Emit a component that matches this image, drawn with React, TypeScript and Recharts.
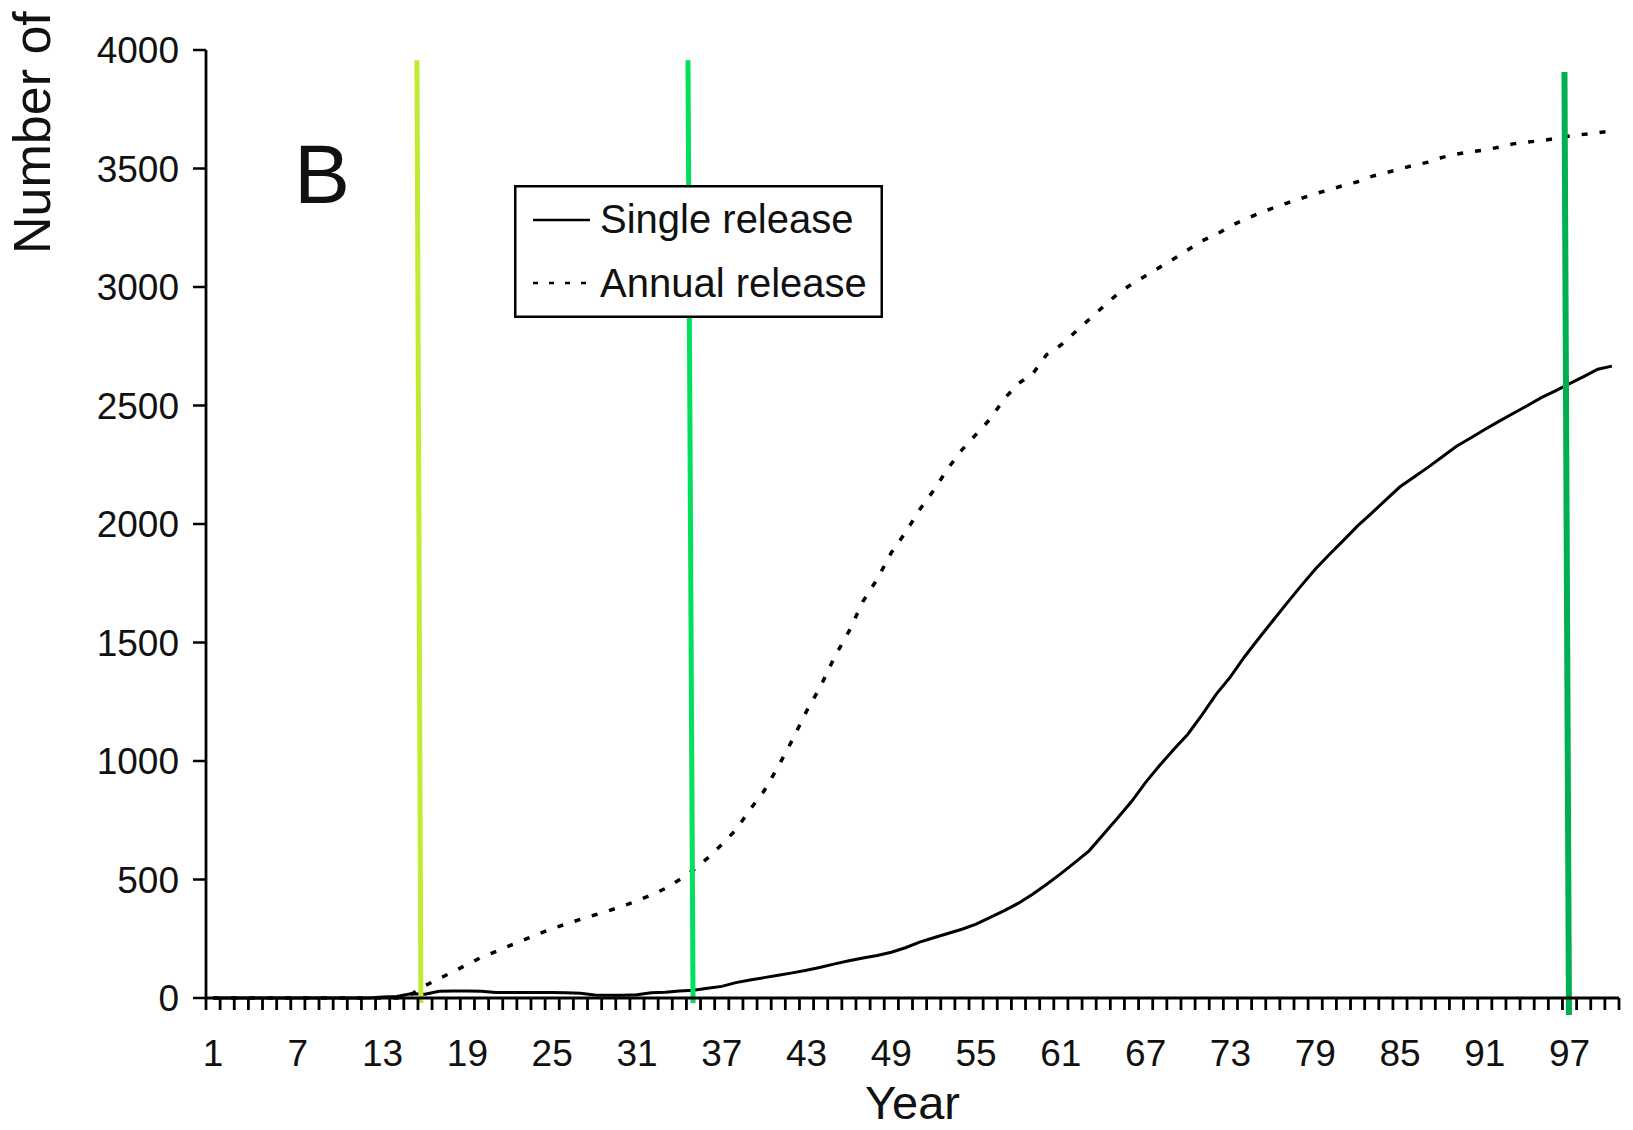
import React from 'react';
import { LineChart, Line, XAxis, YAxis, ReferenceLine, Legend } from 'recharts';

const FONT = '"Liberation Sans", Arial, sans-serif';

const YEARS = Array.from({ length: 100 }, (_, i) => i + 1);

const SINGLE_RELEASE = [
  0, 0, 0, 0, 0, 0, 0, 0, 0, 0,
  0, 0, 4, 6, 18, 16, 28, 30, 30, 28,
  23, 23, 23, 23, 23, 22, 20, 13, 12, 12,
  14, 22, 24, 30, 33, 41, 49, 65, 76, 86,
  96, 106, 117, 130, 144, 157, 169, 179, 193, 212,
  236, 254, 272, 290, 312, 340, 369, 400, 438, 480,
  525, 572, 621, 690, 758, 829, 910, 982, 1050, 1114,
  1196, 1282, 1355, 1440, 1517, 1592, 1666, 1739, 1809, 1871,
  1931, 1992, 2046, 2102, 2157, 2198, 2240, 2284, 2328, 2363,
  2399, 2433, 2466, 2499, 2533, 2562, 2592, 2622, 2653, 2666,
];

const ANNUAL_RELEASE = [
  0, 0, 0, 0, 0, 0, 0, 0, 0, 0,
  0, 0, 0, 0, 15, 52, 82, 111, 142, 172,
  196, 221, 245, 270, 293, 312, 332, 350, 368, 388,
  410, 434, 462, 499, 540, 590, 648, 709, 795, 874,
  977, 1089, 1210, 1316, 1440, 1547, 1674, 1767, 1879, 1964,
  2060, 2142, 2234, 2313, 2378, 2443, 2529, 2593, 2633, 2715,
  2755, 2809, 2863, 2917, 2970, 3012, 3047, 3083, 3119, 3157,
  3195, 3222, 3257, 3285, 3310, 3333, 3354, 3374, 3393, 3411,
  3428, 3444, 3467, 3482, 3498, 3514, 3527, 3547, 3561, 3570,
  3578, 3590, 3604, 3611, 3618, 3626, 3637, 3644, 3651, 3658,
];

const YEAR_TICKS = [1, 7, 13, 19, 25, 31, 37, 43, 49, 55, 61, 67, 73, 79, 85, 91, 97];
// tick marks sit between the years, Excel style
const YEAR_BOUNDARIES = Array.from({ length: 101 }, (_, i) => i + 0.5);
const COUNT_TICKS = [0, 500, 1000, 1500, 2000, 2500, 3000, 3500, 4000];

// hand-drawn green markers: [year, count] at the top and bottom end
const MARKER_TOP = [[15.43, 3957], [34.61, 3957], [96.64, 3907]];
const MARKER_BOTTOM = [[15.71, -21], [34.97, -21], [96.96, -72]];
const MARKER_COLORS = ['#c2ea32', '#00e05c', '#00b050'];
const MARKER_WIDTHS = [5, 5, 6];

const SERIES = [
  { key: 'single', name: 'Single release', dash: undefined as string | undefined },
  { key: 'annual', name: 'Annual release', dash: '5 11' },
];

const data = YEARS.map((year, i) => ({
  year,
  single: SINGLE_RELEASE[i],
  annual: ANNUAL_RELEASE[i],
}));

function LegendBox() {
  return (
    <svg width={369} height={133} style={{ display: 'block' }}>
      <rect x={1.25} y={1.25} width={366.5} height={130.5} fill="#fff" stroke="#000" strokeWidth={2.5} />
      {SERIES.map((s, i) => {
        const lineY = i === 0 ? 35 : 98;
        const textY = i === 0 ? 48 : 112;
        return (
          <g key={s.key}>
            <line x1={19} x2={76} y1={lineY} y2={lineY} stroke="#000" strokeWidth={2.5} strokeDasharray={s.dash} />
            <text x={86} y={textY} fontSize={40} fontFamily={FONT} fill="#111">
              {s.name}
            </text>
          </g>
        );
      })}
    </svg>
  );
}

export default function App() {
  return (
    <div style={{ position: 'absolute', left: 0, top: 0, width: 1633, height: 1130, background: '#fff', fontFamily: FONT }}>
      <LineChart width={1633} height={1130} data={data} margin={{ top: 50, right: 14, bottom: 0, left: 0 }}>
        <XAxis
          xAxisId="minor"
          type="number"
          dataKey="year"
          domain={[0.5, 100.5]}
          ticks={YEAR_BOUNDARIES}
          interval={0}
          tick={() => <g />}
          height={1}
          tickSize={12}
          axisLine={{ stroke: '#000', strokeWidth: 2.8 }}
          tickLine={{ stroke: '#000', strokeWidth: 2.8 }}
        />
        <XAxis
          xAxisId="year"
          type="number"
          dataKey="year"
          domain={[0.5, 100.5]}
          ticks={YEAR_TICKS}
          interval={0}
          height={131}
          axisLine={false}
          tickLine={false}
          tickMargin={35}
          tick={{ fontSize: 37, fill: '#111', fontFamily: FONT }}
          label={{ value: 'Year', position: 'insideBottom', offset: 11, fontSize: 47, fill: '#111', fontFamily: FONT }}
        />
        <YAxis
          width={206}
          type="number"
          domain={[0, 4000]}
          ticks={COUNT_TICKS}
          interval={0}
          tickSize={13}
          tickMargin={14}
          axisLine={{ stroke: '#000', strokeWidth: 2.8 }}
          tickLine={{ stroke: '#000', strokeWidth: 2.5 }}
          tick={{ fontSize: 37, fill: '#111', fontFamily: FONT }}
        />
        <Legend
          verticalAlign="middle"
          align="center"
          content={() => <LegendBox />}
          wrapperStyle={{ left: 514, top: 185, width: 369, height: 133 }}
        />
        <Line
          xAxisId="year"
          type="linear"
          dataKey="single"
          name="Single release"
          stroke="#000"
          strokeWidth={3}
          dot={false}
          isAnimationActive={false}
        />
        <Line
          xAxisId="year"
          type="linear"
          dataKey="annual"
          name="Annual release"
          stroke="#000"
          strokeWidth={3.5}
          strokeDasharray="6 12"
          dot={false}
          isAnimationActive={false}
        />
        {MARKER_TOP.map((top, i) => (
          <ReferenceLine
            key={i}
            xAxisId="year"
            ifOverflow="visible"
            stroke={MARKER_COLORS[i]}
            strokeWidth={MARKER_WIDTHS[i]}
            segment={[
              { x: top[0], y: top[1] },
              { x: MARKER_BOTTOM[i][0], y: MARKER_BOTTOM[i][1] },
            ]}
          />
        ))}
      </LineChart>
      <svg
        width={1633}
        height={1130}
        style={{ position: 'absolute', left: 0, top: 0, pointerEvents: 'none' }}
      >
        <text x={294} y={203} fontSize={84} fontFamily={FONT} fill="#111">
          B
        </text>
        <text transform="translate(50, 254) rotate(-90)" fontSize={52} fontFamily={FONT} fill="#111">
          Number of
        </text>
      </svg>
    </div>
  );
}
